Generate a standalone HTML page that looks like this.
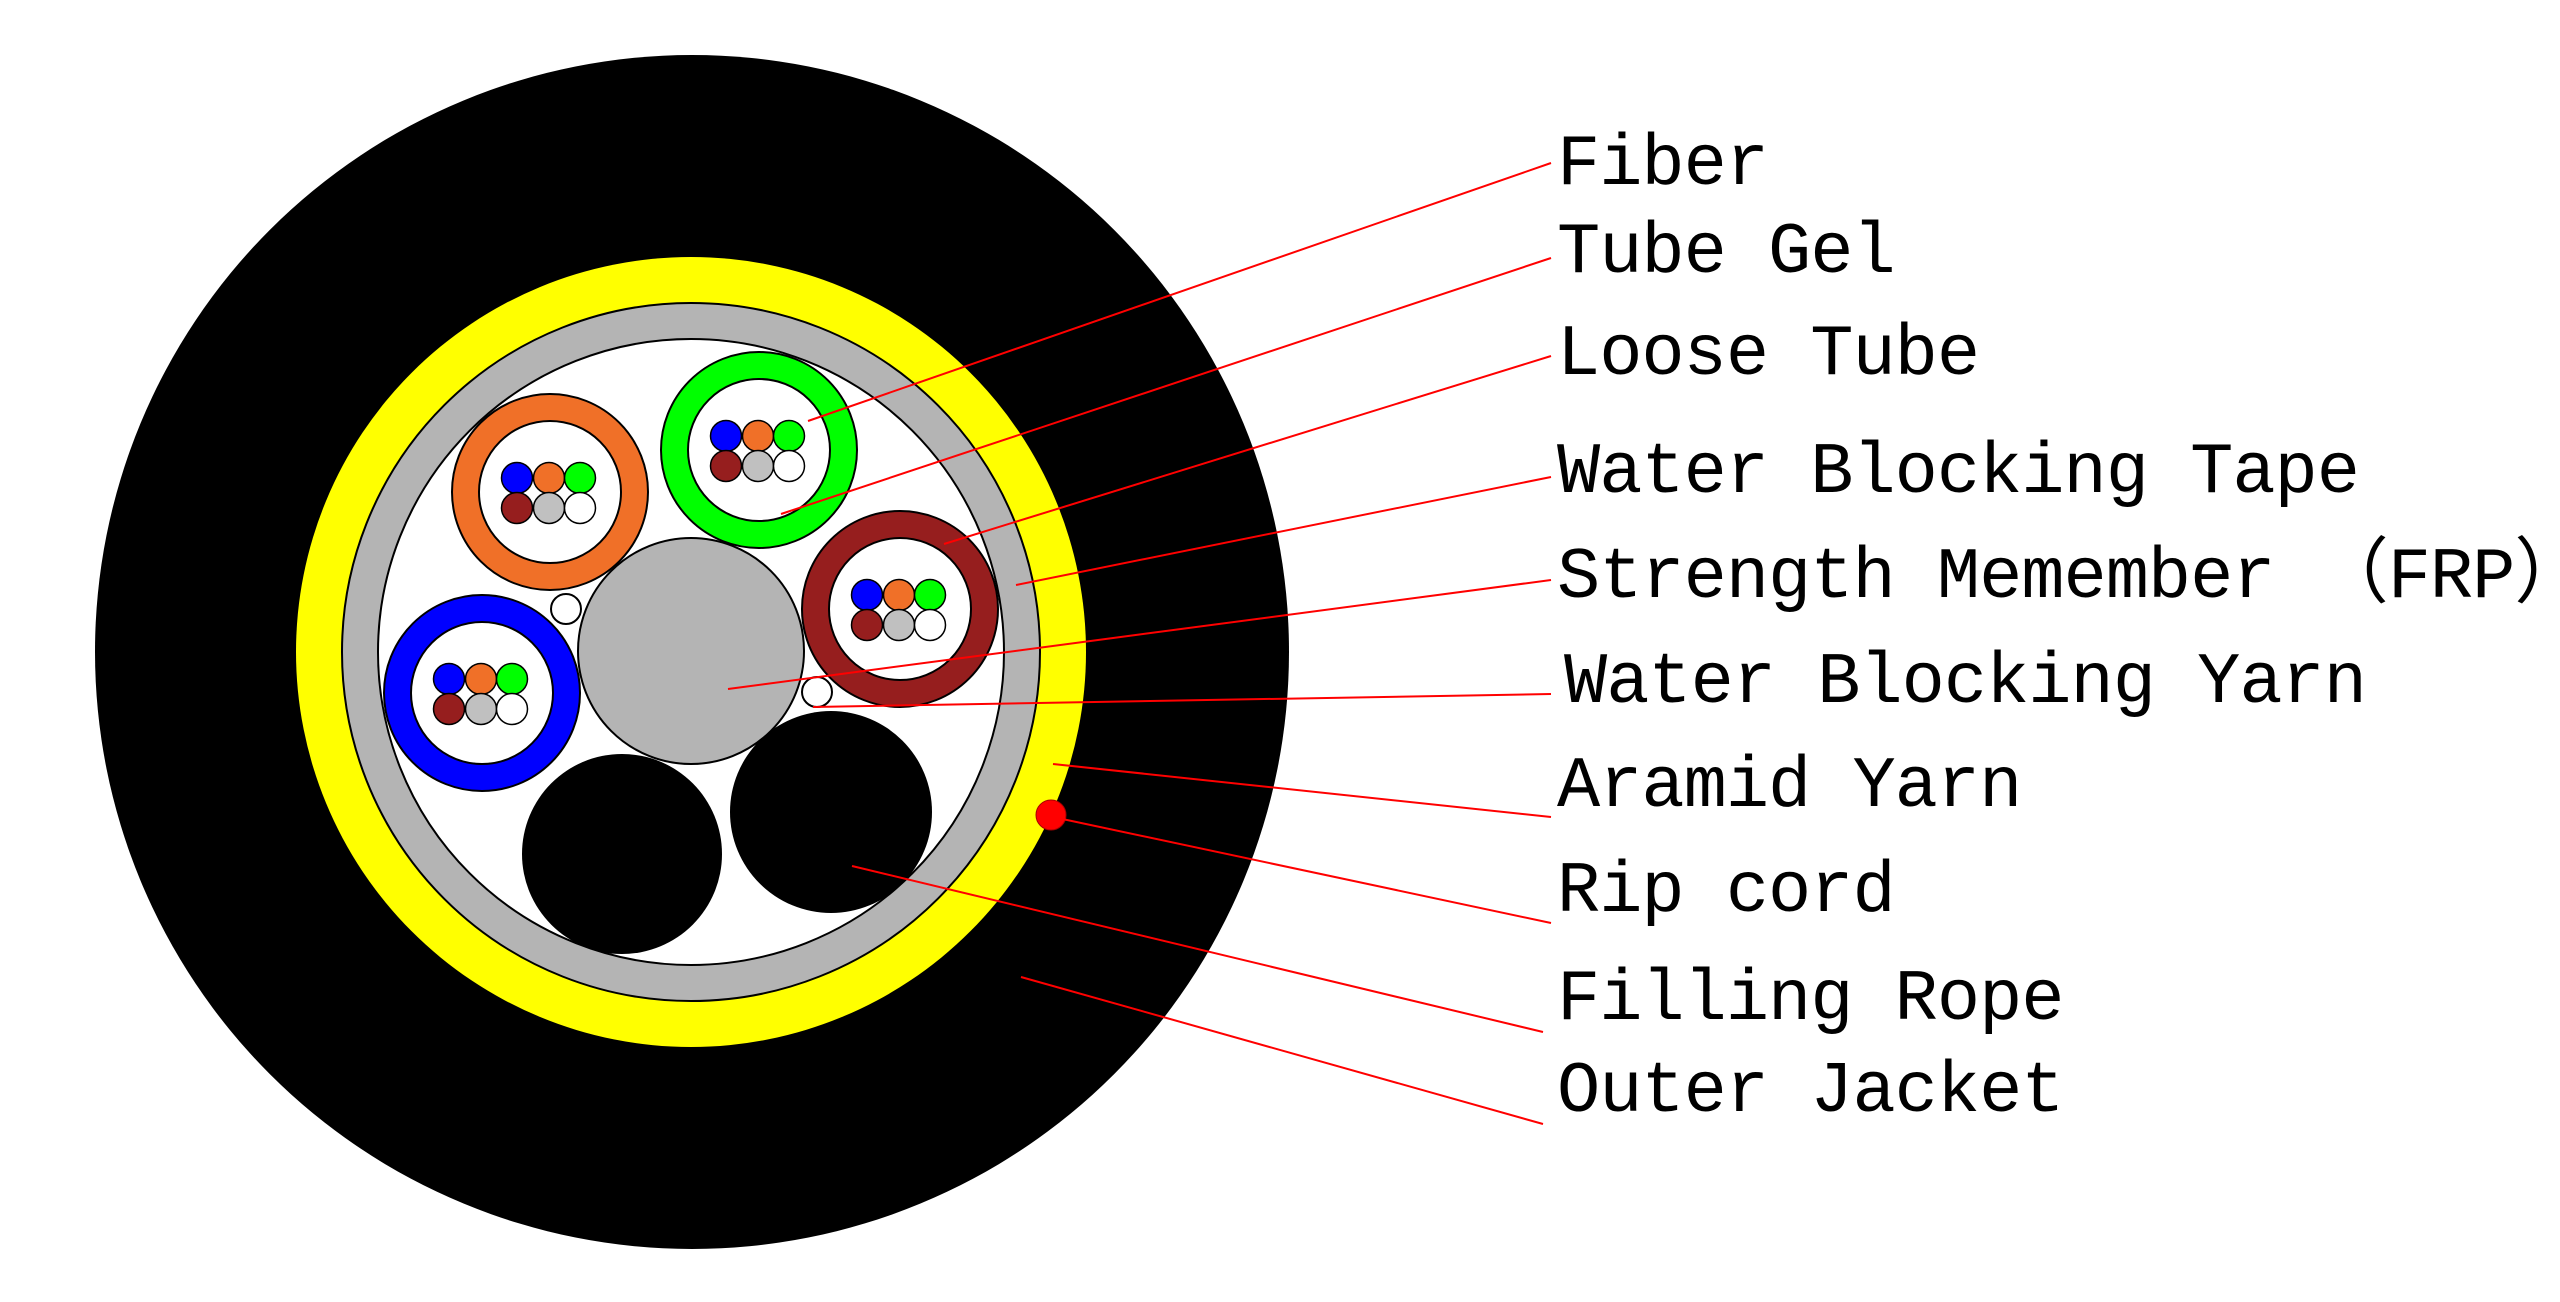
<!DOCTYPE html>
<html><head><meta charset="utf-8"><style>
html,body{margin:0;padding:0;background:#fff;}
svg{display:block;}
text{font-family:"Liberation Mono","Noto Sans CJK SC",monospace;font-size:72px;letter-spacing:-1px;fill:#000;}
</style></head><body>
<svg width="2560" height="1302" viewBox="0 0 2560 1302" xmlns="http://www.w3.org/2000/svg">
<circle cx="692" cy="652" r="597" fill="#000"/>
<circle cx="691" cy="652" r="395" fill="#ffff00"/>
<circle cx="691" cy="652" r="349" fill="#b4b4b4" stroke="#000" stroke-width="2"/>
<circle cx="691" cy="652" r="313" fill="#fff" stroke="#000" stroke-width="2"/>
<circle cx="691" cy="651" r="113" fill="#b4b4b4" stroke="#000" stroke-width="2"/>
<circle cx="622" cy="854" r="100" fill="#000"/>
<circle cx="831" cy="812" r="101" fill="#000"/>
<circle cx="566" cy="609" r="15" fill="#fff" stroke="#000" stroke-width="2"/>
<circle cx="817" cy="692" r="15" fill="#fff" stroke="#000" stroke-width="2"/>
<g transform="translate(550,492)">
<circle r="98" fill="#f07028" stroke="#000" stroke-width="2"/><circle r="71" fill="#fff" stroke="#000" stroke-width="2"/>
</g>
<g transform="translate(759,450)">
<circle r="98" fill="#00ff00" stroke="#000" stroke-width="2"/><circle r="71" fill="#fff" stroke="#000" stroke-width="2"/>
</g>
<g transform="translate(900,609)">
<circle r="98" fill="#961e1e" stroke="#000" stroke-width="2"/><circle r="71" fill="#fff" stroke="#000" stroke-width="2"/>
</g>
<g transform="translate(482,693)">
<circle r="98" fill="#0000ff" stroke="#000" stroke-width="2"/><circle r="71" fill="#fff" stroke="#000" stroke-width="2"/>
</g>
<defs>
<g id="fib">
<circle cx="-33" cy="-14" r="15.5" fill="#0000ff" stroke="#000" stroke-width="1.5"/>
<circle cx="-1" cy="-14" r="15.5" fill="#f07028" stroke="#000" stroke-width="1.5"/>
<circle cx="30" cy="-14" r="15.5" fill="#00ff00" stroke="#000" stroke-width="1.5"/>
<circle cx="-33" cy="16" r="15.5" fill="#961e1e" stroke="#000" stroke-width="1.5"/>
<circle cx="-1" cy="16" r="15.5" fill="#c0c0c0" stroke="#000" stroke-width="1.5"/>
<circle cx="30" cy="16" r="15.5" fill="#fff" stroke="#000" stroke-width="1.5"/>
</g>
</defs>
<use href="#fib" x="550" y="492"/>
<use href="#fib" x="759" y="450"/>
<use href="#fib" x="900" y="609"/>
<use href="#fib" x="482" y="693"/>
<circle cx="1051" cy="815" r="15" fill="#ff0000" stroke="#a00" stroke-width="1"/>
<g stroke="#ff0000" stroke-width="2" fill="none">
<line x1="808" y1="421" x2="1551" y2="163"/>
<line x1="781" y1="514" x2="1551" y2="258"/>
<line x1="944" y1="544" x2="1551" y2="356"/>
<line x1="1016" y1="585" x2="1551" y2="477"/>
<line x1="728" y1="689" x2="1551" y2="580"/>
<line x1="813" y1="707" x2="1551" y2="694"/>
<line x1="1053" y1="764" x2="1551" y2="817"/>
<line x1="1053" y1="817" x2="1551" y2="923"/>
<line x1="852" y1="866" x2="1543" y2="1032"/>
<line x1="1021" y1="977" x2="1543" y2="1124"/>
</g>
<text x="1557" y="184">Fiber</text>
<text x="1557" y="272">Tube Gel</text>
<text x="1557" y="374">Loose Tube</text>
<text x="1557" y="492">Water Blocking Tape</text>
<text x="1557" y="597">Strength Memember （FRP）</text>
<text x="1564" y="702">Water Blocking Yarn</text>
<text x="1557" y="806">Aramid Yarn</text>
<text x="1557" y="911">Rip cord</text>
<text x="1557" y="1019">Filling Rope</text>
<text x="1557" y="1111">Outer Jacket</text>
</svg>
</body></html>
